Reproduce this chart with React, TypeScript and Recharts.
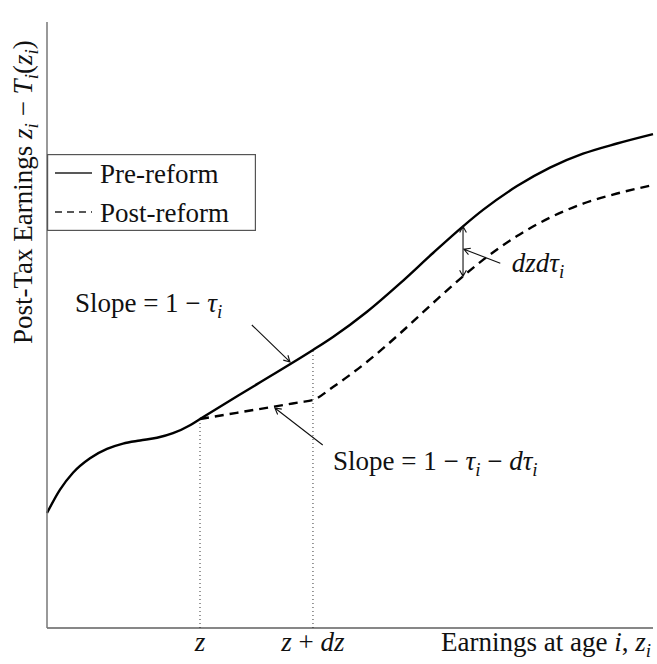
import React from 'react';
import { ComposedChart, Line, XAxis, YAxis, ReferenceLine, ReferenceDot, Legend } from 'recharts';

const FONT = "'Liberation Serif', 'Times New Roman', serif";
const FS = 27;
const SUB = 19;
const INK = '#111';

// Pre-reform curve (solid)
const preX = [0, 0.215, 0.429, 0.71, 0.99, 1.254, 1.535, 1.815, 2.079, 2.36, 2.525, 3.46, 4.389, 4.719, 5.281, 5.825, 6.37, 6.865, 7.195, 7.756, 8.3, 8.845, 9.406, 10];
const preY = [1.898, 2.284, 2.563, 2.802, 2.955, 3.043, 3.094, 3.139, 3.215, 3.347, 3.449, 4.02, 4.587, 4.802, 5.218, 5.686, 6.188, 6.628, 6.899, 7.292, 7.597, 7.827, 7.995, 8.15];
// Post-reform curve (dashed)
const postX = [2.525, 4.175, 4.389, 4.719, 5.281, 5.825, 6.37, 6.865, 7.195, 7.756, 8.3, 8.845, 9.406, 10];
const postY = [3.449, 3.726, 3.762, 3.977, 4.393, 4.861, 5.363, 5.803, 6.074, 6.467, 6.772, 7.002, 7.17, 7.31];

const seriesNames = ['Pre-reform', 'Post-reform'];
const seriesDash = ['', '9 6'];

// x-axis marked points z and z + dz
const zTicks = [2.525, 4.389];
type Seg = { t: string; it?: boolean; sub?: boolean };
const zTickLabels: Seg[][] = [
  [{ t: 'z', it: true }],
  [{ t: 'z', it: true }, { t: ' + ' }, { t: 'dz', it: true }],
];
// y-values of the pre-reform curve at the marked points (dotted guides)
const guideTops = [3.449, 4.587];

// annotation arrows (data coordinates)
const arrowFrom = [
  { x: 3.38, y: 5.0 },
  { x: 4.55, y: 3.02 },
  { x: 7.48, y: 6.02 },
];
const arrowTo = [
  { x: 4.01, y: 4.39 },
  { x: 3.76, y: 3.63 },
  { x: 6.88, y: 6.25 },
];
const gapX = 6.865;
const gapTop = 6.628;
const gapBottom = 5.803;

// annotation texts
const noteX = [0.46, 4.72, 7.67];
const noteY = [5.21, 2.61, 5.87];
const noteTexts: Seg[][] = [
  [{ t: 'Slope = 1 − ' }, { t: 'τ', it: true }, { t: 'i', it: true, sub: true }],
  [{ t: 'Slope = 1 − ' }, { t: 'τ', it: true }, { t: 'i', it: true, sub: true }, { t: ' − ' }, { t: 'dτ', it: true }, { t: 'i', it: true, sub: true }],
  [{ t: 'dzdτ', it: true }, { t: 'i', it: true, sub: true }],
];

const yLabel: Seg[] = [
  { t: 'Post-Tax Earnings ' }, { t: 'z', it: true }, { t: 'i', it: true, sub: true },
  { t: ' − ' }, { t: 'T', it: true }, { t: 'i', it: true, sub: true },
  { t: '(' }, { t: 'z', it: true }, { t: 'i', it: true, sub: true }, { t: ')' },
];
const xLabel: Seg[] = [
  { t: 'Earnings at age ' }, { t: 'i', it: true }, { t: ', ' }, { t: 'z', it: true }, { t: 'i', it: true, sub: true },
];

const preData = preX.map((x, i) => ({ x, y: preY[i] }));
const postData = postX.map((x, i) => ({ x, y: postY[i] }));

function math(segs: Seg[]) {
  let prevSub = false;
  return segs.map((s, k) => {
    let dy = 0;
    if (s.sub && !prevSub) dy = 6;
    if (!s.sub && prevSub) dy = -6;
    prevSub = !!s.sub;
    return (
      <tspan key={k} dy={dy || undefined} fontStyle={s.it ? 'italic' : 'normal'} fontSize={s.sub ? SUB : FS} style={{ whiteSpace: 'pre' }}>
        {s.t}
      </tspan>
    );
  });
}

const arrowShape = (both: boolean) => (p: any) => {
  const x1 = Number(p.x1), y1 = Number(p.y1), x2 = Number(p.x2), y2 = Number(p.y2);
  const head = (hx: number, hy: number, ang: number) => {
    const L = 7, a = 0.5;
    return `M${hx - L * Math.cos(ang - a)},${hy - L * Math.sin(ang - a)} L${hx},${hy} L${hx - L * Math.cos(ang + a)},${hy - L * Math.sin(ang + a)}`;
  };
  const ang = Math.atan2(y2 - y1, x2 - x1);
  let d = `M${x1},${y1} L${x2},${y2} ` + head(x2, y2, ang);
  if (both) d += ' ' + head(x1, y1, ang + Math.PI);
  return <path d={d} fill="none" stroke={INK} strokeWidth={1.1} />;
};

const ZTick = (props: any) => {
  const { x, y, index } = props;
  const segs = zTickLabels[index] || [];
  return (
    <text x={x} y={y + 23} textAnchor="middle" fontFamily={FONT} fontSize={FS} fill={INK}>
      {math(segs)}
    </text>
  );
};

const renderXLabel = (p: any) => {
  const vb = p.viewBox;
  return (
    <text x={vb.x + vb.width - 2} y={vb.y + 23} textAnchor="end" fontFamily={FONT} fontSize={FS} fill={INK}>
      {math(xLabel)}
    </text>
  );
};

const renderYLabel = (p: any) => {
  const vb = p.viewBox;
  const cx = vb.x + vb.width - 15;
  const cy = vb.y + 322;
  return (
    <text x={cx} y={cy} transform={`rotate(-90 ${cx} ${cy})`} textAnchor="start" fontFamily={FONT} fontSize={FS} fill={INK}>
      {math(yLabel)}
    </text>
  );
};

const LegendBox = () => (
  <svg width={209} height={77} style={{ display: 'block' }}>
    <rect x={0.6} y={0.6} width={207.8} height={75.8} fill="#fff" stroke="#555" strokeWidth={1.2} />
    {seriesNames.map((n, i) => (
      <g key={n}>
        <line x1={8} x2={45} y1={19 + i * 39} y2={19 + i * 39} stroke="#222" strokeWidth={1.3} strokeDasharray={seriesDash[i] ? '7 5' : undefined} />
        <text x={53} y={29 + i * 39} fontFamily={FONT} fontSize={FS} fill={INK}>{n}</text>
      </g>
    ))}
  </svg>
);

const noteShape = (i: number) => (p: any) => (
  <text x={p.cx} y={p.cy} fontFamily={FONT} fontSize={FS} fill={INK}>
    {math(noteTexts[i])}
  </text>
);

export default function App() {
  return (
    <div style={{ position: 'absolute', left: 0, top: 0, background: '#fff' }}>
      <ComposedChart width={657} height={664} margin={{ top: 22, right: 4, bottom: 0, left: 0 }}>
        <XAxis
          dataKey="x"
          type="number"
          domain={[0, 10]}
          ticks={zTicks}
          tick={<ZTick />}
          tickLine={false}
          tickSize={0}
          tickMargin={0}
          height={36}
          axisLine={{ stroke: '#111', strokeWidth: 1.1 }}
          label={renderXLabel}
        />
        <YAxis
          type="number"
          domain={[0, 10]}
          tick={false}
          tickLine={false}
          width={47}
          axisLine={{ stroke: '#777', strokeWidth: 1.5 }}
          label={renderYLabel}
        />
        <Legend layout="vertical" align="center" verticalAlign="middle"
          wrapperStyle={{ position: 'absolute', left: 47, top: 154, width: 209, height: 77 }}
          content={() => <LegendBox />} />
        {zTicks.map((zx, i) => (
          <ReferenceLine key={'g' + i} segment={[{ x: zx, y: 0 }, { x: zx, y: guideTops[i] }]} stroke="#333" strokeWidth={1} strokeDasharray="1 3" />
        ))}
        <Line data={preData} dataKey="y" name={seriesNames[0]} type="monotone" stroke="#000" strokeWidth={2.4} dot={false} activeDot={false} isAnimationActive={false} />
        <Line data={postData} dataKey="y" name={seriesNames[1]} type="monotone" stroke="#000" strokeWidth={2.4} strokeDasharray={seriesDash[1]} dot={false} activeDot={false} isAnimationActive={false} />
        {arrowFrom.map((f, i) => (
          <ReferenceLine key={'a' + i} segment={[f, arrowTo[i]]} shape={arrowShape(false)} />
        ))}
        <ReferenceLine segment={[{ x: gapX, y: gapTop }, { x: gapX, y: gapBottom }]} shape={arrowShape(true)} />
        {noteX.map((nx, i) => (
          <ReferenceDot key={'n' + i} x={nx} y={noteY[i]} r={0} shape={noteShape(i)} />
        ))}
      </ComposedChart>
    </div>
  );
}
